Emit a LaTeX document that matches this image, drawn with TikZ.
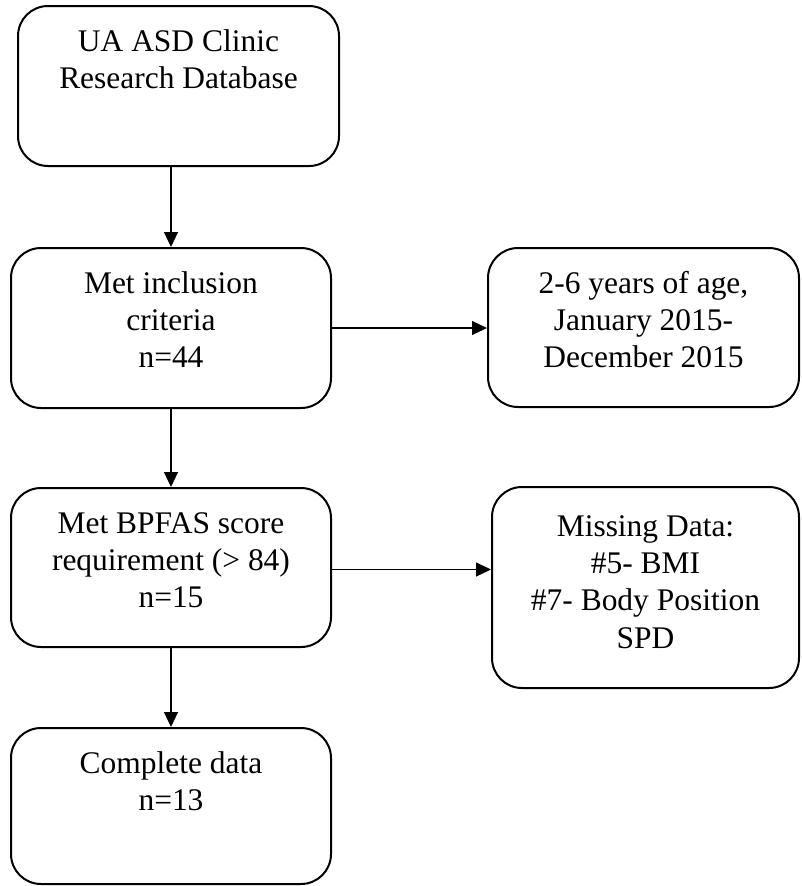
\documentclass[tikz,border=0pt]{standalone}
\usepackage{fontspec}
\setmainfont{Liberation Serif}
\usetikzlibrary{arrows.meta}

% text block inside a box: width, height, first baseline, lines
\newcommand{\boxtext}[4]{\parbox[t][#2][t]{#1}{\centering\rule{0pt}{#3}#4}}

\tikzset{
  flowbox/.style={draw, line width=1.5pt, rounded corners=22.5pt, inner sep=0pt,
    anchor=north west, font=\fontsize{23.6}{28}\selectfont},
  flowarrow/.style={-{Triangle[length=11.25pt,width=10.5pt]}, line width=0.8pt}
}

\begin{document}
\begin{tikzpicture}[x=0.75pt,y=-0.75pt]
			\useasboundingbox (0,0) rectangle (802,886);
			% left column
			\node[flowbox] (db) at (17,5) {\boxtext{240.75pt}{120pt}{33.75pt}{UA ASD Clinic\\Research Database}};
			\node[flowbox] (inc) at (10,247) {\boxtext{240pt}{120pt}{33.75pt}{Met inclusion\\criteria\\n=44}};
			\node[flowbox] (bpfas) at (10,487) {\boxtext{240pt}{119.25pt}{33.75pt}{Met BPFAS score\\requirement (> 84)\\n=15}};
			\node[flowbox] (done) at (10,727) {\boxtext{240pt}{117pt}{33.75pt}{Complete data\\n=13}};
			% right column
			\node[flowbox] (age) at (487,247) {\boxtext{233.25pt}{119.25pt}{33.75pt}{2-6 years of age,\\January 2015-\\December 2015}};
			\node[flowbox] (miss) at (491,486) {\boxtext{230.25pt}{150.75pt}{36.75pt}{Missing Data:\\\#5- BMI\\\#7- Body Position\\SPD}};
			
			\draw[flowarrow] (inc.north |- db.south) -- (inc.north);
			\draw[flowarrow] (inc.south) -- (bpfas.north);
			\draw[flowarrow] (bpfas.south) -- (done.north);
			\draw[flowarrow] (inc.east) -- (inc.east -| age.west);
			\draw[flowarrow] ([yshift=-1.5pt]bpfas.east) -- ([yshift=-1.5pt]bpfas.east -| miss.west);
			
			\end{tikzpicture}
\end{document}
